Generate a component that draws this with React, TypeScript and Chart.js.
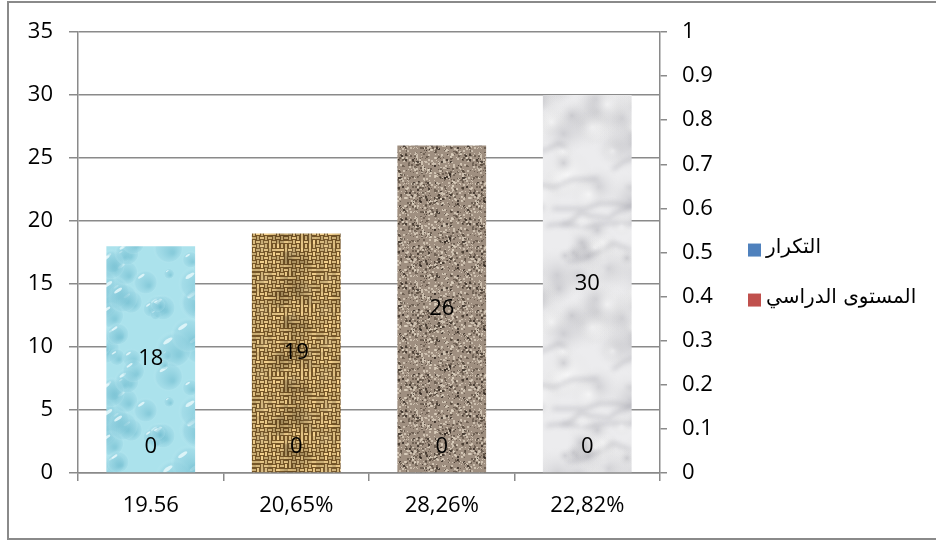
import React, { useEffect, useRef } from "react";
import { Chart, registerables } from "chart.js";

Chart.register(...registerables);

// ---------- data ----------
const categories = ["19.56", "20,65%", "28,26%", "22,82%"];
const frequencyValues = [18, 19, 26, 30];
const levelValues = [0, 0, 0, 0];
const seriesNames = ["التكرار", "المستوى الدراسي"];
const legendColors = ["#4f81bd", "#c0504d"];
const leftTickLabels = ["0", "5", "10", "15", "20", "25", "30", "35"];
const rightTickLabels = ["0", "0.1", "0.2", "0.3", "0.4", "0.5", "0.6", "0.7", "0.8", "0.9", "1"];

// ---------- texture helpers (style only) ----------
function seeded(seed: number) {
  let s = seed >>> 0;
  return () => {
    s = (Math.imul(s, 1664525) + 1013904223) >>> 0;
    return s / 4294967296;
  };
}

function makeCanvas(w: number, h: number) {
  const c = document.createElement("canvas");
  c.width = w;
  c.height = h;
  return c;
}

const offsets = (w: number, h: number) => {
  const out: [number, number][] = [];
  for (const dx of [-w, 0, w]) for (const dy of [-h, 0, h]) out.push([dx, dy]);
  return out;
};

function waterTexture() {
  const w = 96, h = 128;
  const c = makeCanvas(w, h);
  const g = c.getContext("2d")!;
  g.fillStyle = "#abe2ec";
  g.fillRect(0, 0, w, h);
  const r = seeded(11);
  for (let i = 0; i < 34; i++) {
    const x0 = r() * w, y0 = r() * h, rad = 5 + r() * 14;
    for (const [dx, dy] of offsets(w, h)) {
      const x = x0 + dx, y = y0 + dy;
      const grad = g.createRadialGradient(x + rad * 0.3, y + rad * 0.3, rad * 0.1, x, y, rad);
      grad.addColorStop(0, "rgba(118,192,210,0.65)");
      grad.addColorStop(0.8, "rgba(155,214,228,0.45)");
      grad.addColorStop(1, "rgba(200,240,246,0.0)");
      g.fillStyle = grad;
      g.beginPath();
      g.arc(x, y, rad, 0, Math.PI * 2);
      g.fill();
      g.fillStyle = "rgba(235,250,253,0.8)";
      g.beginPath();
      g.ellipse(x - rad * 0.3, y - rad * 0.45, rad * 0.3, rad * 0.1, -0.6, 0, Math.PI * 2);
      g.fill();
    }
  }
  return c;
}

function burlapTexture() {
  const w = 64, h = 64, cell = 4;
  const c = makeCanvas(w, h);
  const g = c.getContext("2d")!;
  g.fillStyle = "#765628";
  g.fillRect(0, 0, w, h);
  const r = seeded(5);
  for (let y = 0; y < h; y += cell) {
    for (let x = 0; x < w; x += cell) {
      const light = 195 + Math.floor(r() * 50);
      g.fillStyle = `rgb(${light},${Math.floor(light * 0.86)},${Math.floor(light * 0.58)})`;
      const horiz = (((x / cell) + (y / cell)) % 2 === 0) !== (r() < 0.15);
      if (horiz) g.fillRect(x, y + 1, cell, cell - 2);
      else g.fillRect(x + 1, y, cell - 2, cell);
    }
  }
  for (let i = 0; i < 14; i++) {
    const x0 = r() * w, y0 = r() * h, rad = 5 + r() * 10;
    const dark = r() < 0.5;
    for (const [dx, dy] of offsets(w, h)) {
      const x = x0 + dx, y = y0 + dy;
      const grad = g.createRadialGradient(x, y, 0, x, y, rad);
      grad.addColorStop(0, dark ? "rgba(80,55,20,0.18)" : "rgba(255,240,200,0.18)");
      grad.addColorStop(1, "rgba(0,0,0,0)");
      g.fillStyle = grad;
      g.fillRect(x - rad, y - rad, rad * 2, rad * 2);
    }
  }
  return c;
}

function graniteTexture() {
  const w = 64, h = 64;
  const c = makeCanvas(w, h);
  const g = c.getContext("2d")!;
  g.fillStyle = "#9f8f80";
  g.fillRect(0, 0, w, h);
  const r = seeded(23);
  for (let i = 0; i < 720; i++) {
    const t = r();
    g.fillStyle = t < 0.4 ? "rgba(80,66,55,0.6)" : t < 0.88 ? "rgba(222,210,192,0.75)" : "rgba(45,36,30,0.75)";
    const s = r() < 0.5 ? 1 : 2;
    g.fillRect(Math.floor(r() * w), Math.floor(r() * h), s, s);
  }
  return c;
}

function marbleTexture() {
  const w = 120, h = 200;
  const c = makeCanvas(w, h);
  const g = c.getContext("2d")!;
  g.fillStyle = "#ececee";
  g.fillRect(0, 0, w, h);
  const r = seeded(41);
  for (let i = 0; i < 60; i++) {
    const x0 = r() * w, y0 = r() * h, rad = 8 + r() * 22;
    const dark = r() < 0.55;
    for (const [dx, dy] of offsets(w, h)) {
      const x = x0 + dx, y = y0 + dy;
      const grad = g.createRadialGradient(x, y, 0, x, y, rad);
      grad.addColorStop(0, dark ? "rgba(140,140,150,0.3)" : "rgba(255,255,255,0.6)");
      grad.addColorStop(1, "rgba(220,220,220,0)");
      g.fillStyle = grad;
      g.fillRect(x - rad, y - rad, rad * 2, rad * 2);
    }
  }
  g.filter = "blur(2.5px)";
  g.strokeStyle = "rgba(130,130,140,0.35)";
  g.lineWidth = 3;
  for (let i = 0; i < 6; i++) {
    const pts: [number, number][] = [];
    let x = r() * w, y = r() * h;
    pts.push([x, y]);
    for (let k = 0; k < 7; k++) {
      x += 6 + r() * 12;
      y += (r() - 0.7) * 14;
      pts.push([x, y]);
    }
    for (const [dx, dy] of offsets(w, h)) {
      g.beginPath();
      pts.forEach(([px, py], k) => (k ? g.lineTo(px + dx, py + dy) : g.moveTo(px + dx, py + dy)));
      g.stroke();
    }
  }
  g.filter = "none";
  return c;
}

// ---------- plugins ----------
const labelFont = '22px "Open Sans"';

const barLabelPlugin = {
  id: "barLabels",
  afterDatasetsDraw(chart: any) {
    const ctx = chart.ctx;
    ctx.save();
    ctx.font = labelFont;
    ctx.fillStyle = "#000";
    ctx.textAlign = "center";
    ctx.textBaseline = "middle";
    chart.getDatasetMeta(0).data.forEach((bar: any, i: number) => {
      const p = bar.getProps(["x", "y", "base"], true);
      ctx.fillText(String(frequencyValues[i]), p.x, (p.y + p.base) / 2);
    });
    chart.getDatasetMeta(1).data.forEach((bar: any, i: number) => {
      const p = bar.getProps(["x", "base"], true);
      ctx.fillText(String(levelValues[i]), p.x, p.base - 26);
    });
    ctx.restore();
  },
};

const sideLegendPlugin = {
  id: "sideLegend",
  afterDraw(chart: any) {
    const ctx = chart.ctx;
    const area = chart.chartArea;
    const x = area.right + 88;
    const midY = area.top + (area.bottom - area.top) * 0.55;
    const gap = 50;
    ctx.save();
    ctx.font = '20px "DejaVu Sans", "Liberation Sans", sans-serif';
    ctx.textBaseline = "middle";
    ctx.textAlign = "left";
    seriesNames.forEach((name, i) => {
      const cy = midY + (i - 0.5) * gap;
      ctx.fillStyle = legendColors[i];
      ctx.fillRect(x, cy - 6, 13, 13);
      ctx.fillStyle = "#000";
      ctx.fillText(name, x + 18, cy - 2);
    });
    ctx.restore();
  },
};

export default function App() {
  const ref = useRef<HTMLCanvasElement | null>(null);

  useEffect(() => {
    if (!ref.current) return;
    const ctx = ref.current.getContext("2d")!;
    const patterns = [waterTexture(), burlapTexture(), graniteTexture(), marbleTexture()].map(
      (c) => ctx.createPattern(c, "repeat")!
    );
    const gridColor = "#8a8a8a";
    const tickFont = { family: '"Open Sans"', size: 22 };

    const chart = new Chart(ref.current, {
      type: "bar",
      data: {
        labels: categories,
        datasets: [
          {
            label: seriesNames[0],
            data: frequencyValues,
            backgroundColor: patterns as any,
            yAxisID: "y",
            grouped: false,
            categoryPercentage: 1,
            barPercentage: 0.61,
            order: 2,
          } as any,
          {
            label: seriesNames[1],
            data: levelValues,
            backgroundColor: legendColors[1],
            yAxisID: "y1",
            grouped: false,
            categoryPercentage: 1,
            barPercentage: 0.61,
            order: 1,
          } as any,
        ],
      },
      options: {
        responsive: false,
        animation: false,
        devicePixelRatio: 1,
        layout: { autoPadding: false, padding: { left: 0, top: 32, right: 216, bottom: 0 } } as any,
        plugins: { legend: { display: false }, tooltip: { enabled: false } },
        scales: {
          x: {
            grid: { offset: true, drawOnChartArea: false, drawTicks: true, tickLength: 8, color: gridColor, lineWidth: 1.5 },
            border: { display: true, color: gridColor, width: 1.5 },
            ticks: { color: "#000", font: tickFont, padding: 12 },
            afterFit: (s: any) => { s.height = 68; },
          },
          y: {
            position: "left",
            min: 0,
            max: 35,
            ticks: {
              stepSize: 5,
              color: "#000",
              font: tickFont,
              padding: 16,
              callback: (_v: any, i: number) => leftTickLabels[i],
            },
            grid: { color: gridColor, lineWidth: 1.5, tickLength: 9 },
            border: { display: true, color: gridColor, width: 1.5 },
            afterFit: (s: any) => { s.width = 78; },
          },
          y1: {
            position: "right",
            min: 0,
            max: 1,
            ticks: {
              stepSize: 0.1,
              color: "#000",
              font: tickFont,
              padding: 15,
              callback: (_v: any, i: number) => rightTickLabels[i],
            },
            grid: { drawOnChartArea: false, color: gridColor, lineWidth: 1.5, tickLength: 7 },
            border: { display: true, color: gridColor, width: 1.5 },
            afterFit: (s: any) => { s.width = 60; },
          },
        },
      },
      plugins: [barLabelPlugin, sideLegendPlugin],
    });
    return () => chart.destroy();
  }, []);

  return (
    <div style={{ position: "fixed", left: 0, top: 0, width: 936, height: 541, background: "#fff", overflow: "hidden" }}>
      <div
        style={{
          position: "absolute",
          left: 7,
          top: 1,
          width: 1000,
          height: 539,
          boxSizing: "border-box",
          border: "2px solid #8a8a8a",
        }}
      />
      <canvas ref={ref} width={936} height={541} style={{ position: "absolute", left: 0, top: 0 }} />
    </div>
  );
}
